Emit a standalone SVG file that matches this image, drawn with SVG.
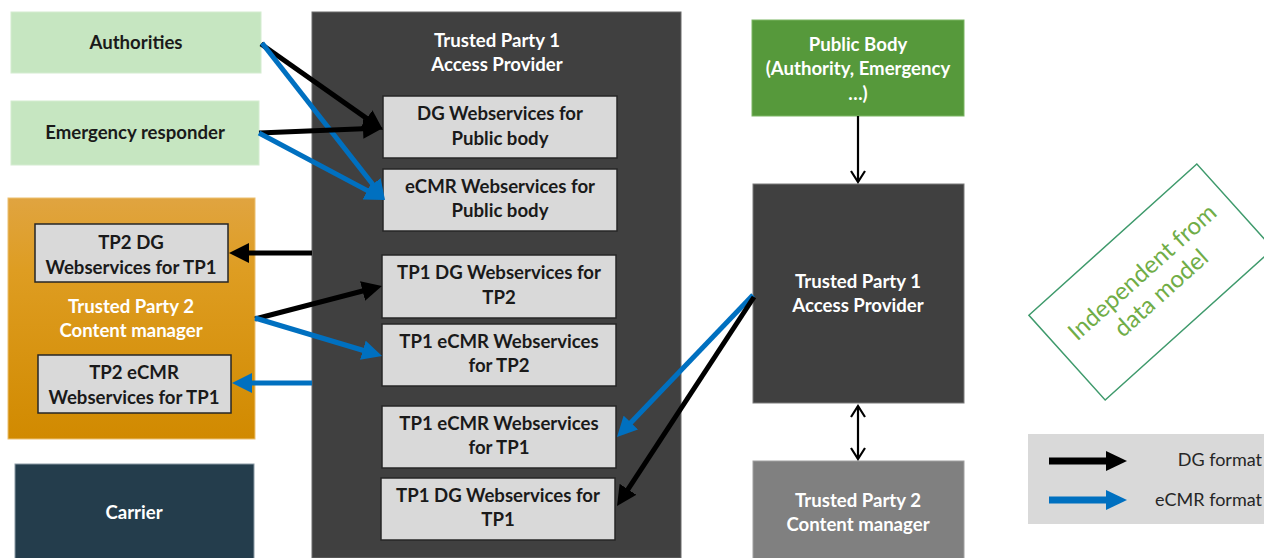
<svg xmlns="http://www.w3.org/2000/svg" width="1264" height="558" viewBox="0 0 1264 558">
  <style>
    .lbl { font-family: Lato, "Open Sans", "Liberation Sans", sans-serif; font-weight: bold; font-size: 18.6px; text-anchor: middle; }
    .dark { fill: #1a1a1a; }
    .light { fill: #ffffff; }
    .svc { fill: #d9d9d9; stroke: #262626; stroke-width: 1.5; }
    .conn { fill: none; stroke-width: 5; }
    .blk { stroke: #000000; }
    .blu { stroke: #0070c0; }
    .thin { fill: none; stroke: #000000; stroke-width: 2.2; }
    .legend { font-family: Lato, "Open Sans", "Liberation Sans", sans-serif; font-size: 18px; fill: #262626; text-anchor: end; }
    .note { font-family: Lato, "Open Sans", "Liberation Sans", sans-serif; font-size: 24px; fill: #70ad47; text-anchor: middle; }
  </style>
  <defs>
    <linearGradient id="orangeGrad" x1="0" y1="0" x2="0" y2="1">
      <stop offset="0" stop-color="#e0a440"/>
      <stop offset="0.3" stop-color="#de9d22"/>
      <stop offset="1" stop-color="#d18a00"/>
    </linearGradient>
    <marker id="headBlack" viewBox="0 0 10 10" refX="3" refY="5" markerWidth="20" markerHeight="20" markerUnits="userSpaceOnUse" orient="auto">
      <path d="M0,0 L10,5 L0,10 z" fill="#000000"/>
    </marker>
    <marker id="headBlue" viewBox="0 0 10 10" refX="3" refY="5" markerWidth="20" markerHeight="20" markerUnits="userSpaceOnUse" orient="auto">
      <path d="M0,0 L10,5 L0,10 z" fill="#0070c0"/>
    </marker>
  </defs>

  <rect width="1264" height="558" fill="#ffffff"/>

  <!-- Trusted Party 1 container -->
  <g id="tp1-container">
    <rect x="312" y="12" width="369" height="546" fill="#404040" stroke="#6a6a6a" stroke-width="1"/>
    <text class="lbl light" x="497" y="47">Trusted Party 1</text>
    <text class="lbl light" x="497" y="71">Access Provider</text>
  </g>

  <g id="authorities">
    <rect x="11" y="12" width="250" height="61" fill="#c6e6c1" stroke="#d4ecd0" stroke-width="1"/>
    <text class="lbl dark" x="136" y="49">Authorities</text>
  </g>

  <g id="emergency-responder">
    <rect x="11" y="101" width="248" height="64" fill="#c6e6c1" stroke="#d4ecd0" stroke-width="1"/>
    <text class="lbl dark" x="135" y="139">Emergency responder</text>
  </g>

  <g id="tp2-container">
    <rect x="8" y="198" width="247" height="241" fill="url(#orangeGrad)" stroke="#ecc070" stroke-width="1"/>
    <text class="lbl light" x="131" y="313">Trusted Party 2</text>
    <text class="lbl light" x="131" y="337">Content manager</text>
  </g>

  <g id="tp2-dg-ws">
    <rect class="svc" x="35" y="224" width="193" height="58"/>
    <text class="lbl dark" x="131" y="249">TP2 DG</text>
    <text class="lbl dark" x="131" y="274">Webservices for TP1</text>
  </g>

  <g id="tp2-ecmr-ws">
    <rect class="svc" x="38" y="355" width="193" height="58"/>
    <text class="lbl dark" x="134" y="379">TP2 eCMR</text>
    <text class="lbl dark" x="134" y="404">Webservices for TP1</text>
  </g>

  <g id="carrier">
    <rect x="15" y="464" width="239" height="100" fill="#243d4c" stroke="#8a9aa4" stroke-width="1"/>
    <text class="lbl light" x="134" y="519">Carrier</text>
  </g>

  <g id="dg-ws-public">
    <rect class="svc" x="383" y="96" width="234" height="62"/>
    <text class="lbl dark" x="500" y="120">DG Webservices for</text>
    <text class="lbl dark" x="500" y="145">Public body</text>
  </g>

  <g id="ecmr-ws-public">
    <rect class="svc" x="383" y="169" width="234" height="62"/>
    <text class="lbl dark" x="500" y="193">eCMR Webservices for</text>
    <text class="lbl dark" x="500" y="217">Public body</text>
  </g>

  <g id="tp1-dg-ws-tp2">
    <rect class="svc" x="382" y="255" width="234" height="63"/>
    <text class="lbl dark" x="499" y="279">TP1 DG Webservices for</text>
    <text class="lbl dark" x="499" y="304">TP2</text>
  </g>

  <g id="tp1-ecmr-ws-tp2">
    <rect class="svc" x="382" y="324" width="234" height="62"/>
    <text class="lbl dark" x="499" y="348">TP1 eCMR Webservices</text>
    <text class="lbl dark" x="499" y="372">for TP2</text>
  </g>

  <g id="tp1-ecmr-ws-tp1">
    <rect class="svc" x="382" y="406" width="234" height="62"/>
    <text class="lbl dark" x="499" y="430">TP1 eCMR Webservices</text>
    <text class="lbl dark" x="499" y="454">for TP1</text>
  </g>

  <g id="tp1-dg-ws-tp1">
    <rect class="svc" x="381" y="478" width="234" height="62"/>
    <text class="lbl dark" x="498" y="502">TP1 DG Webservices for</text>
    <text class="lbl dark" x="498" y="526">TP1</text>
  </g>

  <g id="public-body">
    <rect x="752" y="20" width="212" height="96" fill="#56993b" stroke="#7ab562" stroke-width="1"/>
    <text class="lbl light" x="858" y="51">Public Body</text>
    <text class="lbl light" x="858" y="75">(Authority, Emergency</text>
    <text class="lbl light" x="858" y="100">…)</text>
  </g>

  <g id="tp1-access-provider">
    <rect x="753" y="184" width="211" height="219" fill="#404040" stroke="#7a7a7a" stroke-width="1"/>
    <text class="lbl light" x="858" y="288">Trusted Party 1</text>
    <text class="lbl light" x="858" y="312">Access Provider</text>
  </g>

  <g id="tp2-content-manager">
    <rect x="753" y="461" width="211" height="105" fill="#808080" stroke="#a0a0a0" stroke-width="1"/>
    <text class="lbl light" x="858" y="507">Trusted Party 2</text>
    <text class="lbl light" x="858" y="531">Content manager</text>
  </g>

  <g id="data-model-note">
    <g transform="translate(1151 282) rotate(-42)">
      <rect x="-113" y="-57" width="226" height="114" fill="none" stroke="#3f9a6c" stroke-width="1.5"/>
      <text class="note" x="0" y="-5">Independent from</text>
      <text class="note" x="0" y="23">data model</text>
    </g>
  </g>

  <g id="legend">
    <rect x="1028" y="434" width="240" height="90" fill="#d9d9d9"/>
    <line x1="1049" y1="461" x2="1108" y2="461" stroke="#000000" stroke-width="7"/>
    <polygon points="1106,451 1127,461 1106,471" fill="#000000"/>
    <text class="legend" x="1262" y="466">DG format</text>
    <line x1="1049" y1="500" x2="1108" y2="500" stroke="#0070c0" stroke-width="7"/>
    <polygon points="1106,490 1127,500 1106,510" fill="#0070c0"/>
    <text class="legend" x="1262" y="506">eCMR format</text>
  </g>

  <g id="connectors">
    <line class="conn blk" x1="261" y1="44" x2="371.6" y2="121.9" marker-end="url(#headBlack)"/>
    <line class="conn blu" x1="262" y1="43" x2="376.4" y2="189" marker-end="url(#headBlue)"/>
    <line class="conn blk" x1="259" y1="133" x2="369" y2="128.6" marker-end="url(#headBlack)"/>
    <line class="conn blu" x1="259" y1="133" x2="372.6" y2="193.4" marker-end="url(#headBlue)"/>
    <line class="conn blk" x1="312" y1="253" x2="243" y2="253" marker-end="url(#headBlack)"/>
    <line class="conn blk" x1="255" y1="319" x2="368.4" y2="289.5" marker-end="url(#headBlack)"/>
    <line class="conn blu" x1="255" y1="318" x2="368.6" y2="352" marker-end="url(#headBlue)"/>
    <line class="conn blu" x1="312" y1="383" x2="246" y2="383" marker-end="url(#headBlue)"/>
    <line class="conn blu" x1="753" y1="295" x2="626.7" y2="426.9" stroke-width="4.5" marker-end="url(#headBlue)"/>
    <line class="conn blk" x1="754" y1="297" x2="624.7" y2="494.3" stroke-width="4.5" marker-end="url(#headBlack)"/>
    <!-- thin links on the right column -->
    <line class="thin" x1="858" y1="116" x2="858" y2="182"/>
    <polyline class="thin" points="851,171 858,182 865,171"/>
    <line class="thin" x1="858" y1="406" x2="858" y2="459"/>
    <polyline class="thin" points="851,417 858,406 865,417"/>
    <polyline class="thin" points="851,448 858,459 865,448"/>
  </g>
</svg>
